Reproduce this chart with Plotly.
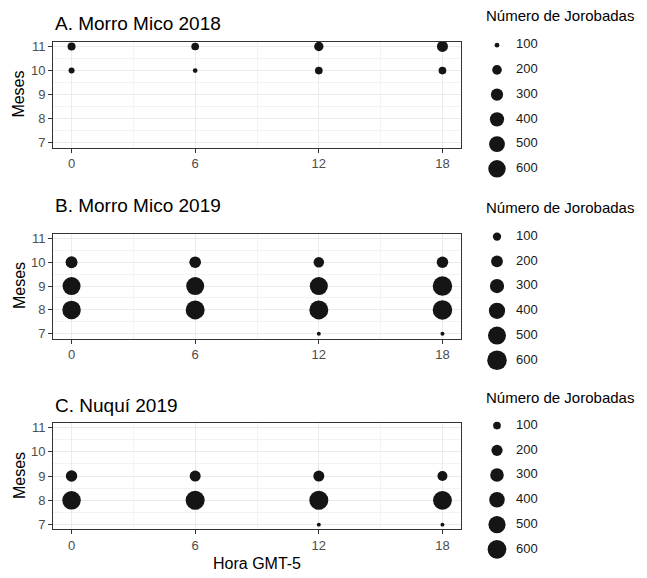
import math
import plotly.graph_objects as go

W, H = 647, 578
OFF = 8  # default page body margin; figure is shrunk so reference pixel coords line up
FW, FH = W - OFF, H - OFF
FONT = "Liberation Sans"

# ---------------- data ----------------
hour_ticks = [0, 6, 12, 18]
month_ticks = [7, 8, 9, 10, 11]
legend_breaks = [100, 200, 300, 400, 500, 600]
legend_title = "Número de Jorobadas"
x_title = "Hora GMT-5"
y_title = "Meses"

titles = ["A. Morro Mico 2018", "B. Morro Mico 2019", "C. Nuquí 2019"]

a_hour = [0, 0, 6, 6, 12, 12, 18, 18]
a_month = [11, 10, 11, 10, 11, 10, 11, 10]
a_count = [154, 115, 147, 100, 190, 147, 249, 147]

b_hour = [0, 0, 0, 6, 6, 6, 12, 12, 12, 12, 18, 18, 18, 18]
b_month = [10, 9, 8, 10, 9, 8, 10, 9, 8, 7, 10, 9, 8, 7]
b_count = [205, 500, 530, 195, 500, 560, 155, 505, 560, 45, 190, 595, 595, 45]

c_hour = [0, 0, 6, 6, 12, 12, 12, 18, 18, 18]
c_month = [9, 8, 9, 8, 9, 8, 7, 9, 8, 7]
c_count = [210, 585, 195, 620, 195, 620, 53, 160, 610, 53]

# ---------------- styling / layout ----------------
# size scale limits per panel (ggplot-like area scale: diameter 3..19 px)
SCALES = [(93, 717), (43, 562), (51, 620)]
DMIN, DMAX = 3, 19


def diam(v, lo, hi):
    return DMIN + (DMAX - DMIN) * math.sqrt(max(v - lo, 0) / (hi - lo))


PLOT_X = (53, 461)
PANELS_PX = [(39, 146), (233, 339), (424, 532)]  # top, bottom of plot areas
LEG_FIRST = [42.5, 236, 427]   # y center of first legend key
LEG_STEP = 25
LEG_TITLE_Y = [13, 207, 399]
TITLE_Y = [20.7, 205, 406.7]

POINT_COLOR = "#151515"
BORDER = "#333333"


def py(px):
    return 1 - (px - OFF) / FH


def px_x(px):
    return (px - OFF) / FW


data_sets = [(a_hour, a_month, a_count), (b_hour, b_month, b_count), (c_hour, c_month, c_count)]

fig = go.Figure()
layout = dict(
    width=FW, height=FH, autosize=False,
    margin=dict(l=0, r=0, t=0, b=0),
    paper_bgcolor="white", plot_bgcolor="white",
    showlegend=False,
    font=dict(family=FONT, color="black"),
    annotations=[],
)

for i, (hx, my, cnt) in enumerate(data_sets):
    lo, hi = SCALES[i]
    n = i + 1
    xa = "x" if n == 1 else f"x{n}"
    ya = "y" if n == 1 else f"y{n}"
    fig.add_trace(go.Scatter(
        x=hx, y=my, mode="markers", xaxis=xa, yaxis=ya,
        marker=dict(size=[diam(v, lo, hi) for v in cnt], color=POINT_COLOR,
                    opacity=1, line=dict(width=0)),
        hoverinfo="skip",
    ))
    top, bot = PANELS_PX[i]
    layout[f"xaxis{'' if n == 1 else n}"] = dict(
        domain=[px_x(PLOT_X[0]), px_x(PLOT_X[1])], range=[-0.9, 18.9],
        anchor=ya, tickmode="array", tickvals=hour_ticks,
        ticks="outside", ticklen=4, tickwidth=1, tickcolor=BORDER,
        showline=True, mirror=True, linecolor=BORDER, linewidth=1,
        showgrid=True, gridcolor="#EBEBEB", gridwidth=1, zeroline=False,
        minor=dict(tick0=0, dtick=3, showgrid=True, gridcolor="#F3F3F3", gridwidth=0.6),
        tickfont=dict(size=13, color="#4D4D4D", family=FONT),
        fixedrange=True,
    )
    layout[f"yaxis{'' if n == 1 else n}"] = dict(
        domain=[py(bot), py(top)], range=[6.8, 11.2],
        anchor=xa, tickmode="array", tickvals=month_ticks,
        ticks="outside", ticklen=4, tickwidth=1, tickcolor=BORDER,
        showline=True, mirror=True, linecolor=BORDER, linewidth=1,
        showgrid=True, gridcolor="#EBEBEB", gridwidth=1, zeroline=False,
        minor=dict(tick0=7, dtick=0.5, showgrid=True, gridcolor="#F3F3F3", gridwidth=0.6),
        tickfont=dict(size=13, color="#4D4D4D", family=FONT),
        fixedrange=True,
    )
    # panel title
    layout["annotations"].append(dict(
        text=titles[i], x=px_x(PLOT_X[0]), y=py(TITLE_Y[i]), xref="paper", yref="paper",
        xanchor="left", yanchor="middle", showarrow=False,
        font=dict(size=19, color="black", family=FONT)))
    # y axis title
    layout["annotations"].append(dict(
        text=y_title, x=px_x(19), y=py((top + bot) / 2), xref="paper", yref="paper",
        xanchor="center", yanchor="middle", textangle=-90, showarrow=False,
        font=dict(size=16, color="black", family=FONT)))

    # legend (drawn as a small scatter on hidden axes)
    ln = n + 3
    lxa, lya = f"x{ln}", f"y{ln}"
    labels = [str(b) for b in legend_breaks]
    first = LEG_FIRST[i]
    last = first + LEG_STEP * (len(legend_breaks) - 1)
    fig.add_trace(go.Scatter(
        x=[0] * len(legend_breaks), y=labels, mode="markers", xaxis=lxa, yaxis=lya,
        marker=dict(size=[diam(v, lo, hi) for v in legend_breaks], color=POINT_COLOR,
                    opacity=1, line=dict(width=0)),
        hoverinfo="skip", cliponaxis=False,
    ))
    fig.add_trace(go.Scatter(
        x=[19] * len(legend_breaks), y=labels, mode="text", text=labels,
        textposition="middle right", xaxis=lxa, yaxis=lya,
        textfont=dict(size=13, color="#1A1A1A", family=FONT),
        hoverinfo="skip", cliponaxis=False,
    ))
    layout[f"xaxis{ln}"] = dict(
        domain=[px_x(497), px_x(617)], range=[0, 120], anchor=lya,
        visible=False, fixedrange=True)
    layout[f"yaxis{ln}"] = dict(
        domain=[py(last + LEG_STEP / 2), py(first - LEG_STEP / 2)],
        type="category", categoryorder="array", categoryarray=labels,
        range=[len(labels) - 0.5, -0.5], anchor=lxa, visible=False, fixedrange=True)
    layout["annotations"].append(dict(
        text=legend_title, x=px_x(485), y=py(LEG_TITLE_Y[i]), xref="paper", yref="paper",
        xanchor="left", yanchor="middle", showarrow=False, borderpad=0,
        font=dict(size=15, color="black", family=FONT)))

layout["annotations"].append(dict(
    text=x_title, x=px_x((PLOT_X[0] + PLOT_X[1]) / 2), y=py(566), xref="paper", yref="paper",
    xanchor="center", yanchor="middle", showarrow=False,
    font=dict(size=16, color="black", family=FONT)))

fig.update_layout(**layout)
fig.write_html("out.html")
